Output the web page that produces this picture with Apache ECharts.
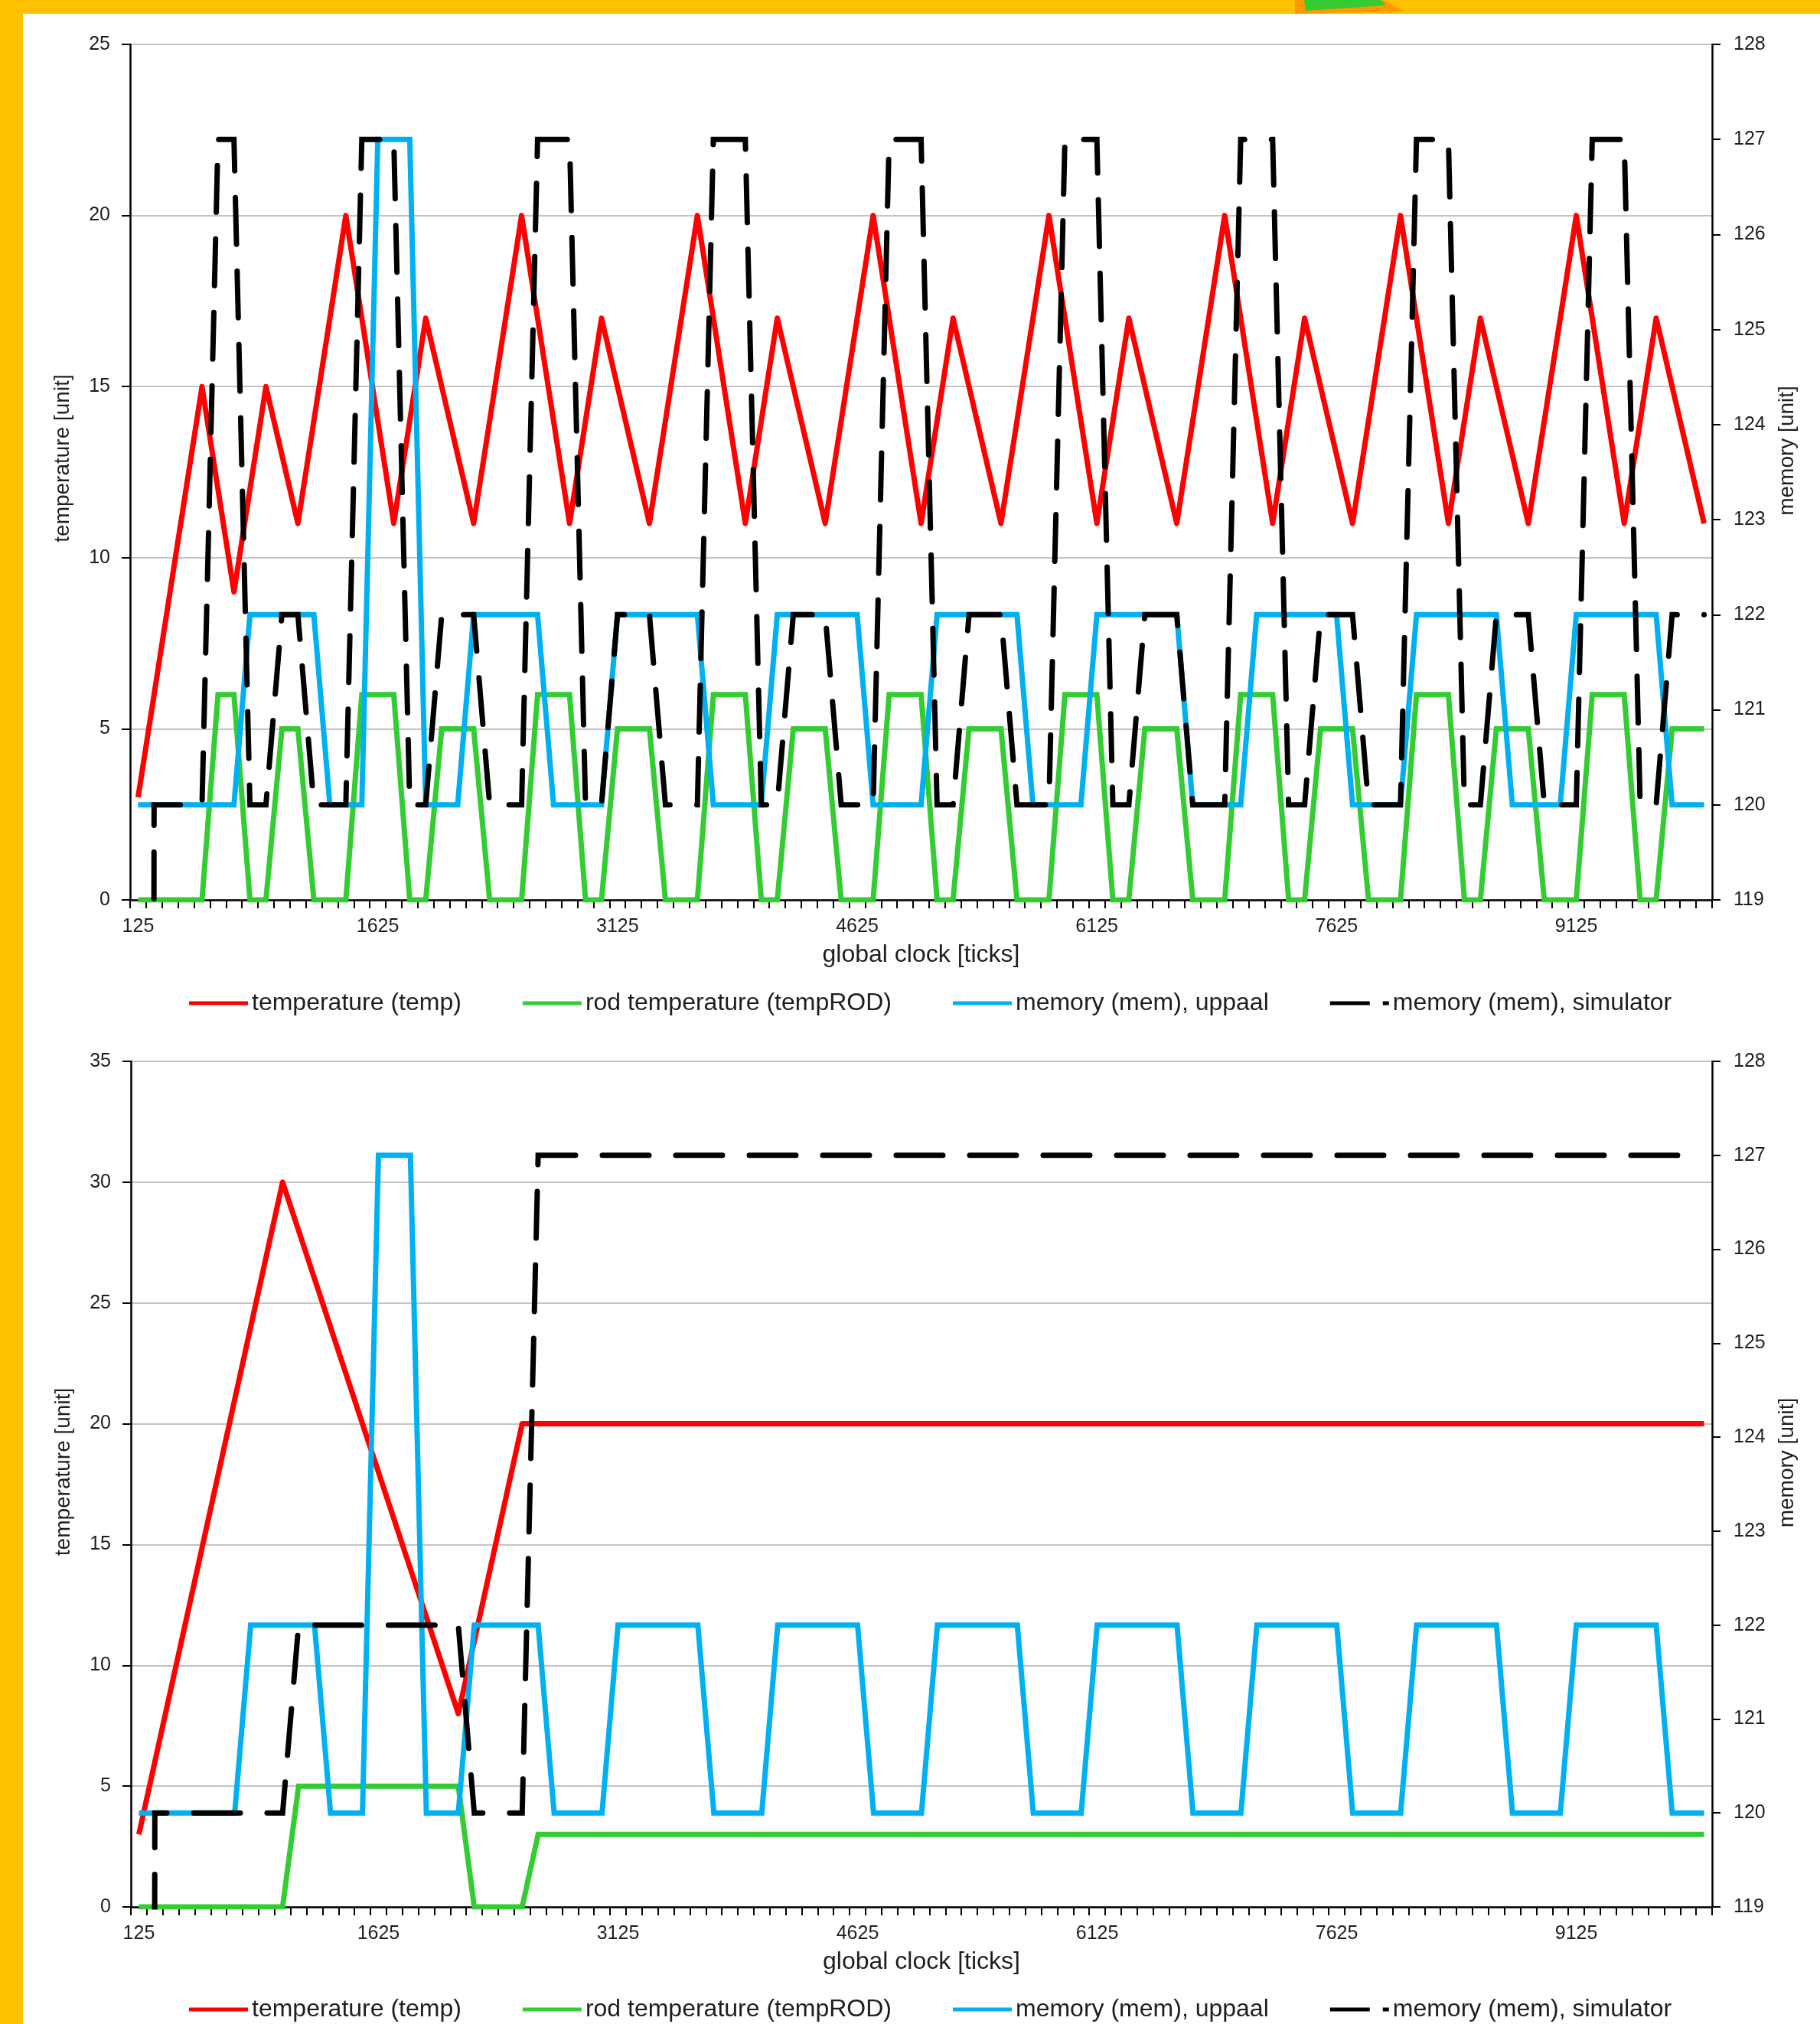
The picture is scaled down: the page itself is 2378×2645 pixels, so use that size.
<!DOCTYPE html>
<html>
<head>
<meta charset="utf-8">
<title>temperature / memory</title>
<script src="https://cdn.jsdelivr.net/npm/echarts@6/dist/echarts.min.js"></script>
<style>
  html, body { margin: 0; padding: 0; background: #fff; }
  #chart { width: 2378px; height: 2645px; }
</style>
</head>
<body>
<div id="chart"></div>
<script>
// global clock categories (ticks)
var ticks = [
  125, 225, 325, 425, 525, 625, 725, 825, 925, 1025,
  1125, 1225, 1325, 1425, 1525, 1625, 1725, 1825, 1925, 2025,
  2125, 2225, 2325, 2425, 2525, 2625, 2725, 2825, 2925, 3025,
  3125, 3225, 3325, 3425, 3525, 3625, 3725, 3825, 3925, 4025,
  4125, 4225, 4325, 4425, 4525, 4625, 4725, 4825, 4925, 5025,
  5125, 5225, 5325, 5425, 5525, 5625, 5725, 5825, 5925, 6025,
  6125, 6225, 6325, 6425, 6525, 6625, 6725, 6825, 6925, 7025,
  7125, 7225, 7325, 7425, 7525, 7625, 7725, 7825, 7925, 8025,
  8125, 8225, 8325, 8425, 8525, 8625, 8725, 8825, 8925, 9025,
  9125, 9225, 9325, 9425, 9525, 9625, 9725, 9825, 9925
];

var seriesNames = ['temperature (temp)', 'rod temperature (tempROD)',
  'memory (mem), uppaal', 'memory (mem), simulator'];

// upper chart
var tempTop = [
  3, 6, 9, 12, 15, 12, 9, 12, 15, 13,
  11, 14, 17, 20, 17, 14, 11, 14, 17, 15, 13,
  11, 14, 17, 20, 17, 14, 11, 14, 17, 15, 13,
  11, 14, 17, 20, 17, 14, 11, 14, 17, 15, 13,
  11, 14, 17, 20, 17, 14, 11, 14, 17, 15, 13,
  11, 14, 17, 20, 17, 14, 11, 14, 17, 15, 13,
  11, 14, 17, 20, 17, 14, 11, 14, 17, 15, 13,
  11, 14, 17, 20, 17, 14, 11, 14, 17, 15, 13,
  11, 14, 17, 20, 17, 14, 11, 14, 17, 15, 13,
  11
];
var rodTop = [
  0, 0, 0, 0, 0, 6, 6, 0, 0, 5, 5, 0, 0, 0,
  6, 6, 6, 0, 0, 5, 5, 5, 0, 0, 0,
  6, 6, 6, 0, 0, 5, 5, 5, 0, 0, 0,
  6, 6, 6, 0, 0, 5, 5, 5, 0, 0, 0,
  6, 6, 6, 0, 0, 5, 5, 5, 0, 0, 0,
  6, 6, 6, 0, 0, 5, 5, 5, 0, 0, 0,
  6, 6, 6, 0, 0, 5, 5, 5, 0, 0, 0,
  6, 6, 6, 0, 0, 5, 5, 5, 0, 0, 0,
  6, 6, 6, 0, 0, 5, 5, 5
];
var memUppaalTop = [
  120, 120, 120, 120, 120, 120, 120,
  122, 122, 122, 122, 122,
  120, 120, 120,
  127, 127, 127,
  120, 120, 120,
  122, 122, 122, 122, 122,
  120, 120, 120, 120,
  122, 122, 122, 122, 122, 122, 120, 120, 120, 120,
  122, 122, 122, 122, 122, 122, 120, 120, 120, 120,
  122, 122, 122, 122, 122, 122, 120, 120, 120, 120,
  122, 122, 122, 122, 122, 122, 120, 120, 120, 120,
  122, 122, 122, 122, 122, 122, 120, 120, 120, 120,
  122, 122, 122, 122, 122, 122, 120, 120, 120, 120,
  122, 122, 122, 122, 122, 122, 120, 120, 120
];
var memSimTop = [
  0, 120, 120, 120, 120, 127, 127, 120, 120, 122, 122, 120, 120, 120,
  127, 127, 127, 120, 120, 122, 122, 122, 120, 120, 120,
  127, 127, 127, 120, 120, 122, 122, 122, 120, 120, 120,
  127, 127, 127, 120, 120, 122, 122, 122, 120, 120, 120,
  127, 127, 127, 120, 120, 122, 122, 122, 120, 120, 120,
  127, 127, 127, 120, 120, 122, 122, 122, 120, 120, 120,
  127, 127, 127, 120, 120, 122, 122, 122, 120, 120, 120,
  127, 127, 127, 120, 120, 122, 122, 122, 120, 120, 120,
  127, 127, 127, 120, 120, 122, 122, 122
];

// lower chart
var tempBottom = [
  3, 6, 9, 12, 15, 18, 21, 24, 27, 30,
  28, 26, 24, 22, 20, 18, 16, 14, 12, 10, 8,
  11, 14, 17, 20,
  20, 20, 20, 20, 20, 20, 20, 20, 20, 20,
  20, 20, 20, 20, 20, 20, 20, 20, 20, 20,
  20, 20, 20, 20, 20, 20, 20, 20, 20, 20,
  20, 20, 20, 20, 20, 20, 20, 20, 20, 20,
  20, 20, 20, 20, 20, 20, 20, 20, 20, 20,
  20, 20, 20, 20, 20, 20, 20, 20, 20, 20,
  20, 20, 20, 20, 20, 20, 20, 20, 20, 20,
  20, 20, 20, 20
];
var rodBottom = [
  0, 0, 0, 0, 0, 0, 0, 0, 0, 0,
  5, 5, 5, 5, 5, 5, 5, 5, 5, 5, 5,
  0, 0, 0, 0,
  3, 3, 3, 3, 3, 3, 3, 3, 3, 3,
  3, 3, 3, 3, 3, 3, 3, 3, 3, 3,
  3, 3, 3, 3, 3, 3, 3, 3, 3, 3,
  3, 3, 3, 3, 3, 3, 3, 3, 3, 3,
  3, 3, 3, 3, 3, 3, 3, 3, 3, 3,
  3, 3, 3, 3, 3, 3, 3, 3, 3, 3,
  3, 3, 3, 3, 3, 3, 3, 3, 3, 3,
  3, 3, 3, 3
];
var memUppaalBottom = [
  120, 120, 120, 120, 120, 120, 120,
  122, 122, 122, 122, 122,
  120, 120, 120,
  127, 127, 127,
  120, 120, 120,
  122, 122, 122, 122, 122,
  120, 120, 120, 120,
  122, 122, 122, 122, 122, 122, 120, 120, 120, 120,
  122, 122, 122, 122, 122, 122, 120, 120, 120, 120,
  122, 122, 122, 122, 122, 122, 120, 120, 120, 120,
  122, 122, 122, 122, 122, 122, 120, 120, 120, 120,
  122, 122, 122, 122, 122, 122, 120, 120, 120, 120,
  122, 122, 122, 122, 122, 122, 120, 120, 120, 120,
  122, 122, 122, 122, 122, 122, 120, 120, 120
];
var memSimBottom = [
  0, 120, 120, 120, 120, 120, 120, 120, 120, 120,
  122, 122, 122, 122, 122, 122, 122, 122, 122, 122, 122,
  120, 120, 120, 120,
  127, 127, 127, 127, 127, 127, 127, 127, 127, 127,
  127, 127, 127, 127, 127, 127, 127, 127, 127, 127,
  127, 127, 127, 127, 127, 127, 127, 127, 127, 127,
  127, 127, 127, 127, 127, 127, 127, 127, 127, 127,
  127, 127, 127, 127, 127, 127, 127, 127, 127, 127,
  127, 127, 127, 127, 127, 127, 127, 127, 127, 127,
  127, 127, 127, 127, 127, 127, 127, 127, 127, 127,
  127, 127, 127, 127
];

var tempMaxTop = 25, tempMaxBottom = 35;
var memMin = 119, memMax = 128;

var FONT = '"Liberation Sans", Arial, sans-serif';
var TXT = '#1e1e1e';
var colors = ['#ff0000', '#33cc33', '#00b0f0', '#000000'];

var myChart = echarts.init(document.getElementById('chart'), null, {renderer: 'canvas'});

function xAxisFor(idx) {
  return {
    gridIndex: idx,
    type: 'category',
    data: ticks,
    boundaryGap: true,
    axisLine: {show: true, onZero: false, lineStyle: {color: '#000', width: 2.5}},
    axisTick: {show: true, interval: 0, length: 11, lineStyle: {color: '#000', width: 2}},
    axisLabel: {interval: 14, fontSize: 25, color: TXT, margin: 23, fontFamily: FONT},
    splitLine: {show: false},
    name: 'global clock [ticks]',
    nameLocation: 'middle',
    nameGap: 56,
    nameTextStyle: {fontSize: 32, color: TXT, fontFamily: FONT}
  };
}

function tempAxis(idx, max, shift) {
  return {
    gridIndex: idx,
    type: 'value',
    position: 'left',
    min: 0, max: max, interval: 5,
    axisLine: {show: true, lineStyle: {color: '#000', width: 2.5}},
    axisTick: {show: true, length: 11, lineStyle: {color: '#000', width: 2}},
    axisLabel: {fontSize: 25, color: TXT, margin: 26, fontFamily: FONT},
    splitLine: {show: true, lineStyle: {color: '#c4c4c4', width: 2}},
    name: 'temperature [unit]',
    nameLocation: 'middle',
    nameGap: 74,
    nameTextStyle: {fontSize: 28, color: TXT, fontFamily: FONT, padding: [0, 0, 0, shift]}
  };
}

function memAxis(idx, shift) {
  return {
    gridIndex: idx,
    type: 'value',
    position: 'right',
    min: memMin, max: memMax, interval: 1,
    axisLine: {show: true, lineStyle: {color: '#000', width: 2.5}},
    axisTick: {show: true, length: 11, lineStyle: {color: '#000', width: 2}},
    axisLabel: {fontSize: 25, color: TXT, margin: 28, fontFamily: FONT},
    splitLine: {show: false},
    name: 'memory [unit]',
    nameLocation: 'middle',
    nameGap: 84,
    nameTextStyle: {fontSize: 28, color: TXT, fontFamily: FONT, padding: [0, 0, 0, shift]}
  };
}

function lineSeries(name, data, idx, yIdx, color, dashed) {
  return {
    name: name,
    type: 'line',
    data: data,
    xAxisIndex: idx,
    yAxisIndex: yIdx,
    symbol: 'none',
    clip: true,
    silent: true,
    lineStyle: {
      color: color,
      width: 7,
      type: dashed ? [61, 35] : 'solid',
      cap: dashed ? 'round' : 'butt',
      join: color === '#ff0000' ? 'round' : 'miter'
    },
    itemStyle: {color: color}
  };
}

// legend samples: solid bar, and long dash + dot for the simulator line
var solidIcon = 'path://M0,0H77V5H0Z';
var dashIcon = 'path://M0,0H52V5H0Z M69,0H77V5H69Z';

function legendAt(top) {
  return {
    top: top,
    left: 247,
    orient: 'horizontal',
    padding: 0,
    itemWidth: 77,
    itemHeight: 32,
    itemGap: 80,
    symbolKeepAspect: true,
    textStyle: {fontSize: 32, color: TXT, fontFamily: FONT},
    data: [
      {name: seriesNames[0], icon: solidIcon},
      {name: seriesNames[1], icon: solidIcon},
      {name: seriesNames[2], icon: solidIcon},
      {name: seriesNames[3], icon: dashIcon}
    ]
  };
}

var option = {
  animation: false,
  backgroundColor: '#ffffff',
  color: colors,
  textStyle: {fontFamily: FONT},
  graphic: [
    {type: 'rect', left: 0, top: 0, shape: {width: 30, height: 2645}, style: {fill: '#ffc000'}, z: 100},
    {type: 'rect', left: 0, top: 0, shape: {width: 2378, height: 18}, style: {fill: '#ffc000'}, z: 100},
    {type: 'polygon', shape: {points: [[1692, 0], [1808, 0], [1834, 15], [1692, 18]]}, style: {fill: '#ff9900'}, z: 101},
    {type: 'polygon', shape: {points: [[1704, 0], [1804, 0], [1811, 7], [1706, 14]]}, style: {fill: '#33cc33'}, z: 102}
  ],
  legend: [legendAt(1295), legendAt(2610)],
  grid: [
    {left: 170, right: 141, top: 58, height: 1118, containLabel: false, outerBoundsMode: 'none'},
    {left: 171, right: 141, top: 1387, height: 1105, containLabel: false, outerBoundsMode: 'none'}
  ],
  xAxis: [xAxisFor(0), xAxisFor(1)],
  yAxis: [
    tempAxis(0, tempMaxTop, 36),
    memAxis(0, 56),
    tempAxis(1, tempMaxBottom, 32),
    memAxis(1, 56)
  ],
  series: [
    lineSeries(seriesNames[0], tempTop, 0, 0, colors[0], false),
    lineSeries(seriesNames[1], rodTop, 0, 0, colors[1], false),
    lineSeries(seriesNames[2], memUppaalTop, 0, 1, colors[2], false),
    lineSeries(seriesNames[3], memSimTop, 0, 1, colors[3], true),
    lineSeries(seriesNames[0], tempBottom, 1, 2, colors[0], false),
    lineSeries(seriesNames[1], rodBottom, 1, 2, colors[1], false),
    lineSeries(seriesNames[2], memUppaalBottom, 1, 3, colors[2], false),
    lineSeries(seriesNames[3], memSimBottom, 1, 3, colors[3], true)
  ]
};

myChart.setOption(option);
</script>
</body>
</html>
